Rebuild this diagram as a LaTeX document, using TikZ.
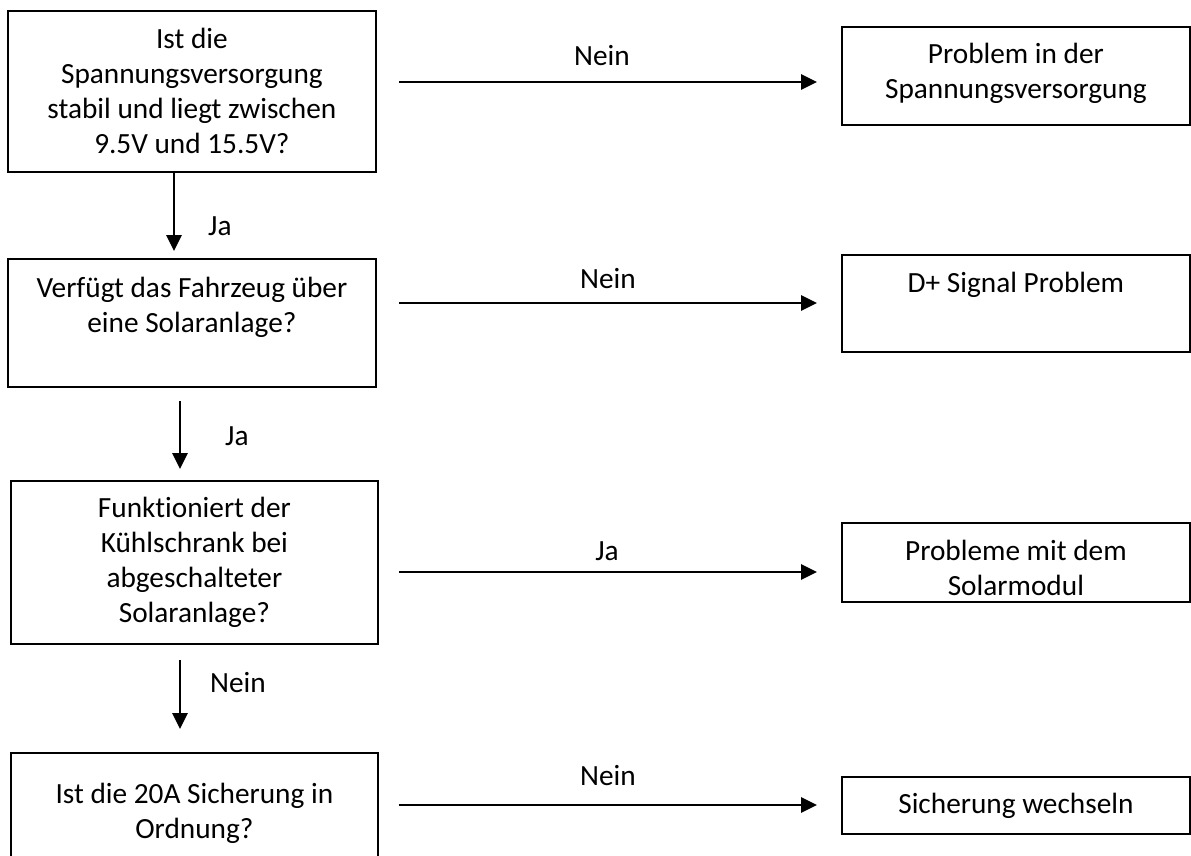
\documentclass[tikz,border=0pt]{standalone}
\usepackage{fontspec}
\setmainfont{Carlito}[Ligatures=NoCommon]
\usetikzlibrary{arrows.meta,calc}
\newcommand\tstrut{\rule{0pt}{25pt}}
\tikzset{
  box/.style={draw=black, line width=1.8pt, rectangle, inner sep=0pt, anchor=north west},
  txt/.style={align=center, inner sep=0pt, anchor=north, font=\fontsize{29.3}{35}\selectfont},
  lbl/.style={inner sep=0pt, font=\fontsize{29.3}{35}\selectfont},
  arr/.style={line width=2.8pt, -{Triangle[length=16pt,width=15pt]}},
}
\begin{document}
\begin{tikzpicture}[x=1pt,y=-1pt]
\useasboundingbox (0,0) rectangle (1191,855);
\clip (0,0) rectangle (1191,855);
\fill[white] (0,0) rectangle (1191,855);

% left column boxes
\node[box, minimum width=368pt, minimum height=161pt] (b1) at (7,10) {};
\node[box, minimum width=368pt, minimum height=128pt] (b2) at (7,258) {};
\node[box, minimum width=367pt, minimum height=163pt] (b3) at (10,480) {};
\node[box, minimum width=367pt, minimum height=160pt] (b4) at (10,752) {};

% right column boxes
\node[box, minimum width=348pt, minimum height=98pt] (r1) at (841,26) {};
\node[box, minimum width=348pt, minimum height=97pt] (r2) at (841,254) {};
\node[box, minimum width=348pt, minimum height=79pt] (r3) at (841,522) {};
\node[box, minimum width=348pt, minimum height=57pt] (r4) at (841,776) {};

% texts
\node[txt] (t1) at ($(b1.north)+(0,13)$) {\tstrut Ist die\\Spannungsversorgung\\stabil und liegt zwischen\\9.5V und 15.5V?};
\node[txt] (t2) at ($(b2.north)+(0,14)$) {\tstrut Verfügt das Fahrzeug über\\eine Solaranlage?};
\node[txt] (t3) at ($(b3.north)+(0,12)$) {\tstrut Funktioniert der\\Kühlschrank bei\\abgeschalteter\\Solaranlage?};
\node[txt] (t4) at ($(b4.north)+(0,26)$) {\tstrut Ist die 20A Sicherung in\\Ordnung?};
\node[txt] (u1) at ($(r1.north)+(0,12)$) {\tstrut Problem in der\\Spannungsversorgung};
\node[txt] (u2) at ($(r2.north)+(0,13)$) {\tstrut D+ Signal Problem};
\node[txt] (u3) at ($(r3.north)+(0,13)$) {\tstrut Probleme mit dem\\Solarmodul};
\node[txt] (u4) at ($(r4.north)+(0,12)$) {\tstrut Sicherung wechseln};

% connector end points
\coordinate (v1s) at (174,171);  \coordinate (v1e) at (174,251);
\coordinate (v2s) at (180,401);  \coordinate (v2e) at (180,469);
\coordinate (v3s) at (180,660);  \coordinate (v3e) at (180,729);
\coordinate (h1s) at (399,82);   \coordinate (h1e) at (817,82);
\coordinate (h2s) at (399,303);  \coordinate (h2e) at (817,303);
\coordinate (h3s) at (399,572);  \coordinate (h3e) at (817,572);
\coordinate (h4s) at (399,805);  \coordinate (h4e) at (817,805);

% vertical connectors
\draw[arr] (v1s) -- (v1e);
\draw[arr] (v2s) -- (v2e);
\draw[arr] (v3s) -- (v3e);
\node[lbl, anchor=base west] (l1) at (208,235) {Ja};
\node[lbl, anchor=base west] (l2) at (225,445) {Ja};
\node[lbl, anchor=base west] (l3) at (210,692) {Nein};

% horizontal connectors
\draw[arr] (h1s) -- (h1e);
\draw[arr] (h2s) -- (h2e);
\draw[arr] (h3s) -- (h3e);
\draw[arr] (h4s) -- (h4e);
\node[lbl, anchor=base] (m1) at (602,65) {Nein};
\node[lbl, anchor=base] (m2) at (608,288) {Nein};
\node[lbl, anchor=base] (m3) at (607,560) {Ja};
\node[lbl, anchor=base] (m4) at (608,785) {Nein};
\end{tikzpicture}
\end{document}
